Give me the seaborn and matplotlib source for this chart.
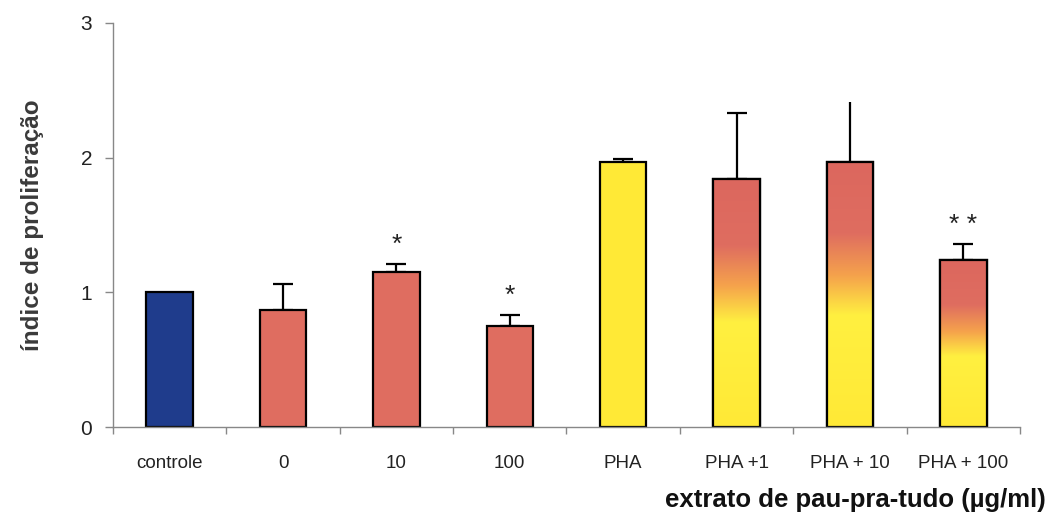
import numpy as np
import pandas as pd
import matplotlib
matplotlib.use("Agg")
import matplotlib.pyplot as plt
from matplotlib.colors import LinearSegmentedColormap
import seaborn as sns

categories = ["controle", "0", "10", "100", "PHA", "PHA +1", "PHA + 10", "PHA + 100"]
means = [1.00, 0.87, 1.15, 0.75, 1.97, 1.84, 1.97, 1.24]
errors = [0.00, 0.19, 0.06, 0.085, 0.02, 0.49, 0.44, 0.12]
significance = ["", "", "*", "*", "", "", "", "**"]
fill_kind = ["blue", "salmon", "salmon", "salmon", "yellow", "gradient", "gradient", "gradient"]
yticks = [0, 1, 2, 3]

BLUE = "#1f3c8c"
SALMON = "#df6d60"
YELLOW = "#ffe936"
colors = {"blue": BLUE, "salmon": SALMON, "yellow": YELLOW, "gradient": YELLOW}

sns.set_theme(style="white")
plt.rcParams["font.family"] = ["Liberation Sans", "DejaVu Sans"]

df = pd.DataFrame({"cat": categories, "val": means, "kind": fill_kind})

fig = plt.figure(figsize=(10.5, 5.3), dpi=100)
ax = fig.add_axes([0.1076, 0.194, 0.8638, 0.763])

sns.barplot(data=df, x="cat", y="val", hue="cat", palette=[colors[k] for k in fill_kind],
            saturation=1, width=0.41, edgecolor="black", linewidth=1.6, legend=False,
            ax=ax, errorbar=None)

grad = LinearSegmentedColormap.from_list(
    "g", [(0.0, YELLOW), (0.42, "#fff040"), (0.57, "#f5a24c"), (0.73, SALMON), (1.0, "#dc675e")])
patches = sorted(ax.patches, key=lambda p: p.get_x())
for p, kind in zip(patches, fill_kind):
    p.set_zorder(2)
    if kind == "gradient":
        x0, y0 = p.get_x(), p.get_y()
        w, h = p.get_width(), p.get_height()
        img = np.linspace(0, 1, 256).reshape(-1, 1)
        im = ax.imshow(img, cmap=grad, origin="lower", aspect="auto",
                       extent=(x0, x0 + w, y0, y0 + h), zorder=2.1)
        im.set_clip_path(p)
        outline = plt.Rectangle((x0, y0), w, h, fill=False, edgecolor="black",
                                linewidth=1.6, zorder=2.2)
        ax.add_patch(outline)

xs = np.arange(len(categories))
cap_idx = [i for i in xs if errors[i] > 0 and categories[i] != "PHA + 10"]
nocap_idx = [i for i in xs if categories[i] == "PHA + 10"]
ax.errorbar(xs[cap_idx], np.array(means)[cap_idx],
            yerr=[np.zeros(len(cap_idx)), np.array(errors)[cap_idx]],
            fmt="none", ecolor="black", elinewidth=1.6, capsize=7, capthick=1.6, zorder=1.5)
ax.errorbar(xs[nocap_idx], np.array(means)[nocap_idx],
            yerr=[np.zeros(len(nocap_idx)), np.array(errors)[nocap_idx]],
            fmt="none", ecolor="black", elinewidth=1.6, capsize=0, zorder=1.5)

for i, s in enumerate(significance):
    if s:
        ax.text(i, means[i] + errors[i] + 0.14, " ".join(s), ha="center", va="center",
                fontsize=19, color="#222222")

ax.set_xlim(-0.5, len(categories) - 0.5)
ax.set_ylim(0, 3)
ax.set_yticks(yticks)
ax.set_yticklabels([str(t) for t in yticks], fontsize=15, color="#222222")
ax.set_xticks(xs)
ax.set_xticklabels(categories, fontsize=13.5, color="#222222")
ax.tick_params(axis="x", length=0, pad=20)
ax.tick_params(axis="y", left=True, length=6, width=1, color="#888888", direction="out", pad=9)

# ticks at category boundaries on x axis
ax.set_xticks(np.arange(len(categories) + 1) - 0.5, minor=True)
ax.tick_params(axis="x", which="minor", bottom=True, length=5, width=1, color="#888888", direction="out")

for side in ["top", "right"]:
    ax.spines[side].set_visible(False)
for side in ["left", "bottom"]:
    ax.spines[side].set_color("#888888")
    ax.spines[side].set_linewidth(1.0)

ax.set_xlabel("")
ax.set_ylabel("índice de proliferação", fontsize=17.5, fontweight="bold", color="#3a3a3a", labelpad=26)
fig.text(0.996, 0.057, "extrato de pau-pra-tudo (µg/ml)", ha="right", va="center",
         fontsize=18.5, fontweight="bold", color="#111111")

fig.savefig("out.png", dpi=100, facecolor="white")
